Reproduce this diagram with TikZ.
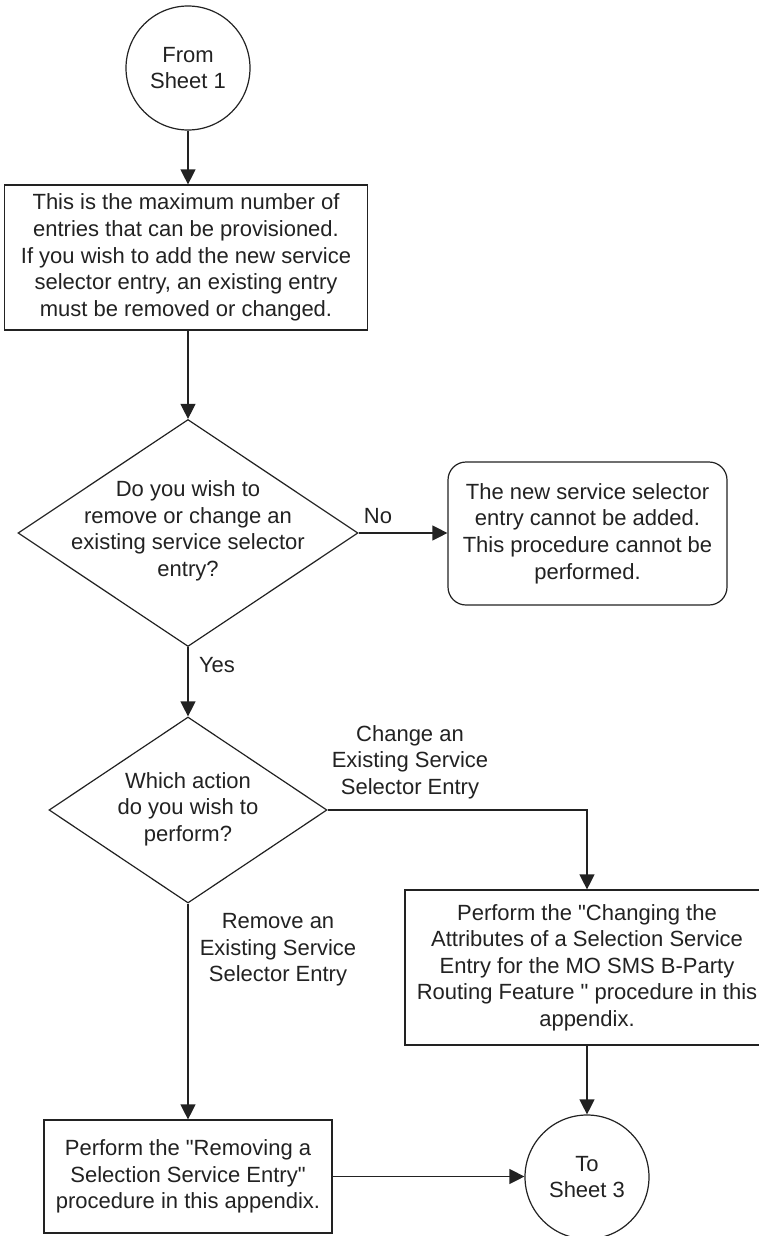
\documentclass[tikz,border=0pt]{standalone}
\usepackage{fontspec}
\setmainfont{Liberation Sans}[Ligatures=TeXOff]
\usetikzlibrary{shapes.geometric,arrows.meta}
\definecolor{ink}{HTML}{222222}
\tikzset{
  every node/.style={font=\fontsize{22}{26.6}\selectfont, text=ink},
  ln/.style={draw=ink, line width=1.2pt},
  arr/.style={ln, -{Triangle[length=15pt,width=15pt]}},
  procbox/.style={ln, rectangle, align=center, inner sep=0pt},
  termbox/.style={ln, rectangle, rounded corners=18pt, align=center, inner sep=0pt},
  conn/.style={ln, circle, align=center, inner sep=0pt, minimum size=124pt},
  decbox/.style={ln, diamond, inner sep=0pt},
  txt/.style={align=center, inner sep=0pt}
}
\begin{document}
\begin{tikzpicture}[x=1pt,y=-1pt]
\useasboundingbox (0,0) rectangle (759,1236);
\clip (0,0) rectangle (759,1236);
\fill[white] (0,0) rectangle (759,1236);

\node[conn] (start) at (188,68) {From\\Sheet 1};
\node[procbox, minimum width=363pt, minimum height=145pt] (box1) at (186,257.5)
  {This is the maximum number of\\entries that can be provisioned.\\If you wish to add the new service\\selector entry, an existing entry\\must be removed or changed.};

\node[decbox, minimum width=340pt, minimum height=227pt] (d1) at (188,533) {};
\node[txt] (d1t) at (188,531) {Do you wish to\\remove or change an\\existing service selector\\entry?};

\node[termbox, minimum width=279pt, minimum height=143pt] (r1) at (587.5,533.5)
  {The new service selector\\entry cannot be added.\\This procedure cannot be\\performed.};
\node[txt] (no) at (378,516) {No};

\node[decbox, minimum width=278pt, minimum height=186pt] (d2) at (188,810) {};
\node[txt] (d2t) at (188,809) {Which action\\do you wish to\\perform?};
\node[txt] (yes) at (217,665) {Yes};

\node[txt] (chgl) at (410,762) {Change an\\Existing Service\\Selector Entry};
\node[txt] (reml) at (278,950) {Remove an\\Existing Service\\Selector Entry};

\node[procbox, minimum width=364pt, minimum height=155pt] (chg) at (587,967.5)
  {Perform the "Changing the\\Attributes of a Selection Service\\Entry for the MO SMS B-Party\\Routing Feature " procedure in this\\appendix.};

\node[procbox, minimum width=288pt, minimum height=113pt] (rem) at (188,1176.5)
  {Perform the "Removing a\\Selection Service Entry"\\procedure in this appendix.};

\node[conn] (end) at (587,1177) {To\\Sheet 3};

\draw[arr] (start.south) -- (start.south |- box1.north);
\draw[arr] (box1.south -| d1.north) -- (d1.north);
\draw[arr] (d1.east) -- (d1.east -| r1.west);
\draw[arr] (d1.south) -- (d2.north);
\draw[arr] (d2.east) -| (chg.north);
\draw[arr] (d2.south) -- (rem.north);
\draw[arr] (chg.south) -- (end.north);
\draw[arr] (rem.east) -- (rem.east -| end.west);
\end{tikzpicture}
\end{document}
